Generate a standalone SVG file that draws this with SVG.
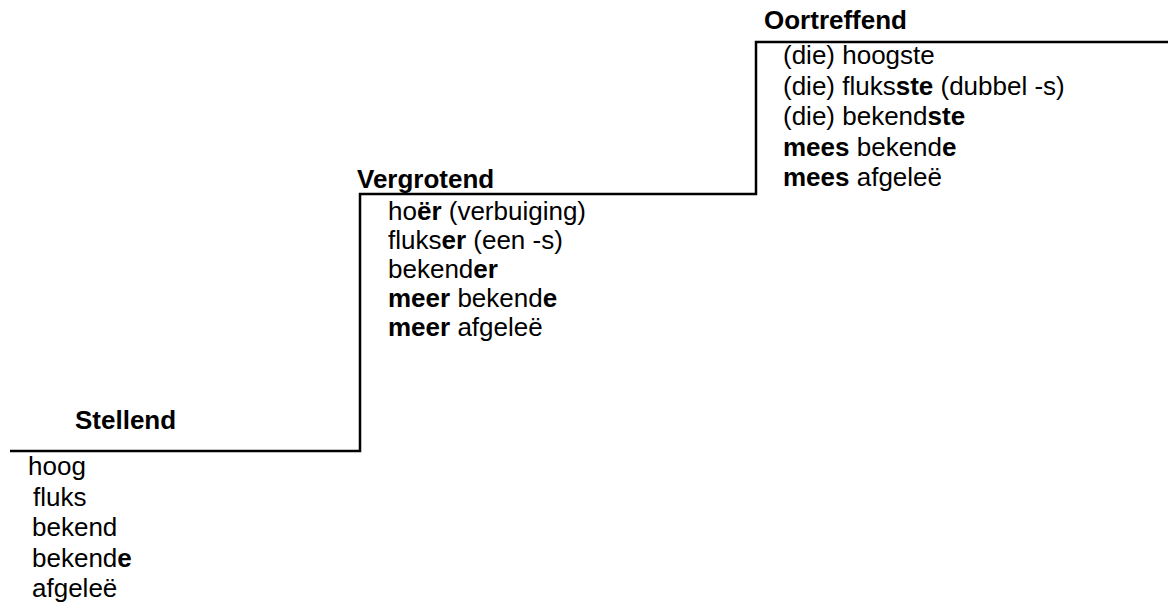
<svg xmlns="http://www.w3.org/2000/svg" width="1168" height="602" viewBox="0 0 1168 602">
<style>
text{font-family:"Liberation Sans",Arial,sans-serif;font-size:26px;fill:#000}
.h{font-weight:bold}
.b{font-weight:bold}
.ln{fill:none;stroke:#000;stroke-width:2.5}
</style>
<rect width="1168" height="602" fill="#fff"/>
<g id="connectors">
<path class="ln" d="M10 451 H360 V194 H756 V42 H1168"/>
</g>
<g id="stellend">
<text class="h" x="75" y="429">Stellend</text>
<text x="28" y="475">hoog</text>
<text x="33" y="505.5">fluks</text>
<text x="32" y="536">bekend</text>
<text x="32" y="566.5">bekend<tspan class="b">e</tspan></text>
<text x="32" y="597">afgeleë</text>
</g>
<g id="vergrotend">
<text class="h" x="357" y="188">Vergrotend</text>
<text x="388" y="220">ho<tspan class="b">ër</tspan> (verbuiging)</text>
<text x="388" y="249">fluks<tspan class="b">er</tspan> (een -s)</text>
<text x="388" y="278">bekend<tspan class="b">er</tspan></text>
<text x="388" y="307"><tspan class="b">meer</tspan> bekend<tspan class="b">e</tspan></text>
<text x="388" y="336"><tspan class="b">meer</tspan> afgeleë</text>
</g>
<g id="oortreffend">
<text class="h" x="764" y="29">Oortreffend</text>
<text x="783" y="64">(die) hoogste</text>
<text x="783" y="94.5">(die) fluks<tspan class="b">ste</tspan> (dubbel -s)</text>
<text x="783" y="125">(die) bekend<tspan class="b">ste</tspan></text>
<text x="783" y="155.5"><tspan class="b">mees</tspan> bekend<tspan class="b">e</tspan></text>
<text x="783" y="186"><tspan class="b">mees</tspan> afgeleë</text>
</g>
</svg>
